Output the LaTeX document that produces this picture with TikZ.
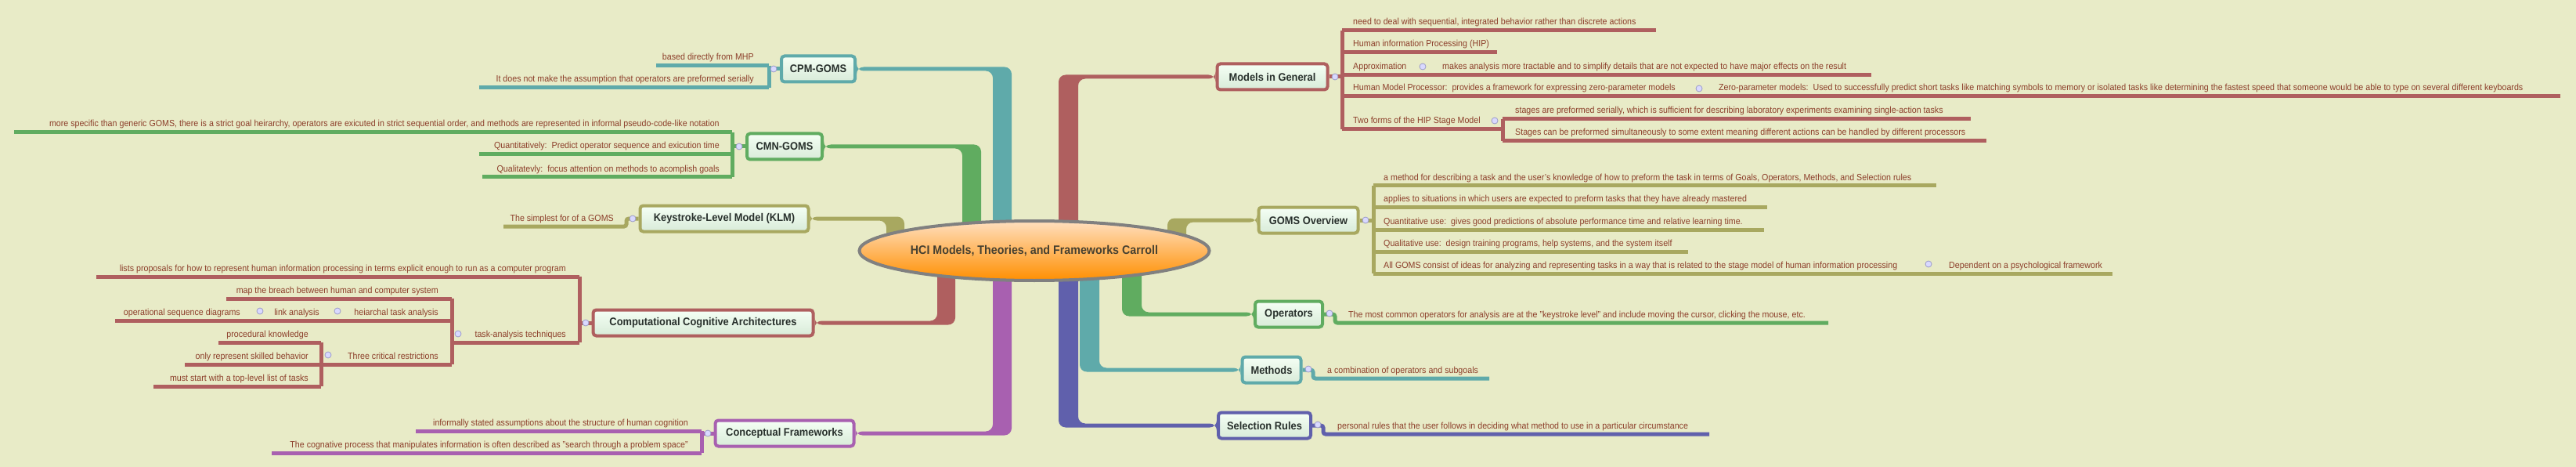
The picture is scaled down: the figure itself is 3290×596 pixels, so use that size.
\documentclass[tikz,border=0pt]{standalone}
\usepackage{fontspec}
\setmainfont{Liberation Sans}[FakeStretch=0.92]
\usetikzlibrary{shapes.geometric}
\definecolor{paper}{RGB}{232,235,199}
\definecolor{leaftext}{RGB}{140,62,42}
\definecolor{boxtext}{RGB}{40,48,44}
\definecolor{cred}{RGB}{175,95,95}
\definecolor{cteal}{RGB}{95,170,170}
\definecolor{cgreen}{RGB}{96,172,96}
\definecolor{colive}{RGB}{168,168,96}
\definecolor{cpurple}{RGB}{168,96,176}
\definecolor{cblue}{RGB}{96,96,172}
\tikzset{
	topic/.style={draw=#1, line width=4pt, rounded corners=4pt, top color=white!96!green, bottom color=green!8!white!92!black,
		font=\bfseries\fontsize{14}{16}\selectfont, text=boxtext, minimum height=33pt, inner sep=0pt},
	leafR/.style={anchor=base west, inner sep=0pt, font=\fontsize{11.6}{13}\selectfont, text=leaftext},
	leafL/.style={anchor=base east, inner sep=0pt, font=\fontsize{11.6}{13}\selectfont, text=leaftext},
	rib/.style={draw=#1, line width=5pt, rounded corners=3pt},
	fold/.style={circle, draw=blue!30!gray!60, fill=blue!15!white, minimum size=8pt, inner sep=0pt, line width=0.8pt}
}
\begin{document}
\begin{tikzpicture}[x=1pt, y=-1pt]
	\fill[paper] (0,0) rectangle (3290,596);
	\useasboundingbox (0,0) rectangle (3290,596);

	% main topics
	\node[topic=cteal, minimum width=94pt] (cpm) at (1045,88) {CPM-GOMS};
	\node[topic=cgreen, minimum width=96pt] (cmn) at (1002,187) {CMN-GOMS};
	\node[topic=colive, minimum width=215pt] (klm) at (925,279) {Keystroke-Level Model (KLM)};
	\node[topic=cred, minimum width=281pt] (cca) at (898,412) {Computational Cognitive Architectures};
	\node[topic=cpurple, minimum width=177pt] (cf) at (1002,553) {Conceptual Frameworks};
	\node[topic=cred, minimum width=141pt] (mig) at (1625,98) {Models in General};
	\node[topic=colive, minimum width=127pt] (gov) at (1671,281) {GOMS Overview};
	\node[topic=cgreen, minimum width=86pt] (ops) at (1646,401) {Operators};
	\node[topic=cteal, minimum width=75pt] (mth) at (1624,472) {Methods};
	\node[topic=cblue, minimum width=118pt] (sel) at (1615,543) {Selection Rules};

	% trunks
	\fill[cteal, rounded corners=9pt] ([yshift=2.5pt]cpm.east) -| (1292,320) -- (1268,320) |- ([yshift=-2.5pt]cpm.east) -- cycle;
	\fill[cgreen, rounded corners=9pt] ([yshift=2.5pt]cmn.east) -| (1253,320) -- (1229,320) |- ([yshift=-2.5pt]cmn.east) -- cycle;
	\fill[colive, rounded corners=9pt] ([yshift=2.5pt]klm.east) -| (1155,320) -- (1132,320) |- ([yshift=-2.5pt]klm.east) -- cycle;
	\fill[cred, rounded corners=9pt] ([yshift=-2.5pt]cca.east) -| (1220,320) -- (1197,320) |- ([yshift=2.5pt]cca.east) -- cycle;
	\fill[cpurple, rounded corners=9pt] ([yshift=-2.5pt]cf.east) -| (1292,320) -- (1268,320) |- ([yshift=2.5pt]cf.east) -- cycle;
	\fill[cred, rounded corners=9pt] ([yshift=2.5pt]mig.west) -| (1352,320) -- (1377,320) |- ([yshift=-2.5pt]mig.west) -- cycle;
	\fill[colive, rounded corners=9pt] ([yshift=2.5pt]gov.west) -| (1491,320) -- (1515,320) |- ([yshift=-2.5pt]gov.west) -- cycle;
	\fill[cgreen, rounded corners=9pt] ([yshift=-2.5pt]ops.west) -| (1433,320) -- (1458,320) |- ([yshift=2.5pt]ops.west) -- cycle;
	\fill[cteal, rounded corners=9pt] ([yshift=-2.5pt]mth.west) -| (1379,320) -- (1404,320) |- ([yshift=2.5pt]mth.west) -- cycle;
	\fill[cblue, rounded corners=9pt] ([yshift=-2.5pt]sel.west) -| (1352,320) -- (1377,320) |- ([yshift=2.5pt]sel.west) -- cycle;

	\node[ellipse, draw=gray, line width=4pt, top color=orange!25!white, bottom color=orange!90!red!80!yellow, inner sep=0pt,
		minimum width=442pt, minimum height=76pt, font=\bfseries\fontsize{15.5}{18}\selectfont, text=boxtext!80!brown]
		(hci) at (1321,320) {HCI Models, Theories, and Frameworks Carroll};

	% Models in General
	\draw[rib=cred] (mig.east) -- (1714,98);
	\draw[rib=cred] (1714,39) -- (1714,165);
	\draw[rib=cred] (1714,39) -- (2115,39);
	\draw[rib=cred] (1714,67) -- (1912,67);
	\draw[rib=cred] (1714,96) -- (2390,96);
	\draw[rib=cred] (1714,123) -- (3270,123);
	\draw[rib=cred] (1714,165) -- (1919,165);
	\draw[rib=cred] (1919,152) -- (1919,180);
	\draw[rib=cred] (1919,152) -- (2517,152);
	\draw[rib=cred] (1919,180) -- (2537,180);
	\node[leafR] (m1) at (1728,32) {need to deal with sequential, integrated behavior rather than discrete actions};
	\node[leafR] (m2) at (1728,60) {Human information Processing (HIP)};
	\node[leafR] (m3) at (1728,89) {Approximation};
	\node[leafR] (m3a) at (1842,89) {makes analysis more tractable and to simplify details that are not expected to have major effects on the result};
	\node[leafR] (m4) at (1728,116) {Human Model Processor:\ \ provides a framework for expressing zero-parameter models};
	\node[leafR] (m4a) at (2195,116) {Zero-parameter models:\ \ Used to successfully predict short tasks like matching symbols to memory or isolated tasks like determining the fastest speed that someone would be able to type on several different keyboards};
	\node[leafR] (m5) at (1728,158) {Two forms of the HIP Stage Model};
	\node[leafR] (m5a) at (1935,145) {stages are preformed serially, which is sufficient for describing laboratory experiments examining single-action tasks};
	\node[leafR] (m5b) at (1935,173) {Stages can be preformed simultaneously to some extent meaning different actions can be handled by different processors};
	\node[fold] at (1705,98) {};
	\node[fold] at (1817,85) {};
	\node[fold] at (2170,113) {};
	\node[fold] at (1909,154) {};

	% GOMS Overview
	\draw[rib=colive] (gov.east) -- (1754,281);
	\draw[rib=colive] (1754,237) -- (1754,349);
	\draw[rib=colive] (1754,237) -- (2473,237);
	\draw[rib=colive] (1754,264) -- (2257,264);
	\draw[rib=colive] (1754,293) -- (2253,293);
	\draw[rib=colive] (1754,321) -- (2156,321);
	\draw[rib=colive] (1754,349) -- (2698,349);
	\node[leafR] (g1) at (1767,230) {a method for describing a task and the user's knowledge of how to preform the task in terms of Goals, Operators, Methods, and Selection rules};
	\node[leafR] (g2) at (1767,257) {applies to situations in which users are expected to preform tasks that they have already mastered};
	\node[leafR] (g3) at (1767,286) {Quantitative use:\ \ gives good predictions of absolute performance time and relative learning time.};
	\node[leafR] (g4) at (1767,314) {Qualitative use:\ \ design training programs, help systems, and the system itself};
	\node[leafR] (g5) at (1767,342) {All GOMS consist of ideas for analyzing and representing tasks in a way that is related to the stage model of human information processing};
	\node[leafR] (g5a) at (2489,342) {Dependent on a psychological framework};
	\node[fold] at (1744,281) {};
	\node[fold] at (2463,337) {};

	% Operators, Methods, Selection Rules
	\draw[rib=cgreen] (ops.east) -| (1705,412) -- (2335,412);
	\draw[rib=cteal] (mth.east) -| (1677,483) -- (1902,483);
	\draw[rib=cblue] (sel.east) -| (1690,554) -- (2183,554);
	\node[leafR] (o1) at (1722,405) {The most common operators for analysis are at the "keystroke level" and include moving the cursor, clicking the mouse, etc.};
	\node[leafR] (t1) at (1695,476) {a combination of operators and subgoals};
	\node[leafR] (s1) at (1708,547) {personal rules that the user follows in deciding what method to use in a particular circumstance};
	\node[fold] at (1698,400) {};
	\node[fold] at (1671,471) {};
	\node[fold] at (1683,542) {};

	% CPM-GOMS
	\draw[rib=cteal] (cpm.west) -- (982,88);
	\draw[rib=cteal] (982,84) -- (982,112);
	\draw[rib=cteal] (838,84) -- (982,84);
	\draw[rib=cteal] (612,112) -- (982,112);
	\node[leafL] (p1) at (963,77) {based directly from MHP};
	\node[leafL] (p2) at (963,105) {It does not make the assumption that operators are preformed serially};
	\node[fold] at (988,88) {};

	% CMN-GOMS
	\draw[rib=cgreen] (cmn.west) -- (935,187);
	\draw[rib=cgreen] (935,169) -- (935,226);
	\draw[rib=cgreen] (18,169) -- (935,169);
	\draw[rib=cgreen] (612,197) -- (935,197);
	\draw[rib=cgreen] (616,226) -- (935,226);
	\node[leafL] (n1) at (919,162) {more specific than generic GOMS, there is a strict goal heirarchy, operators are exicuted in strict sequential order, and methods are represented in informal pseudo-code-like notation};
	\node[leafL] (n2) at (919,190) {Quantitatively:\ \ Predict operator sequence and exicution time};
	\node[leafL] (n3) at (919,219) {Qualitatevly:\ \ focus attention on methods to acomplish goals};
	\node[fold] at (944,187) {};

	% KLM
	\draw[rib=colive] (klm.west) -| (800,289) -- (643,289);
	\node[leafL] (k1) at (784,282) {The simplest for of a GOMS};
	\node[fold] at (808,279) {};

	% Computational Cognitive Architectures
	\draw[rib=cred] (cca.west) -- (740,412);
	\draw[rib=cred] (740,353) -- (740,437);
	\draw[rib=cred] (123,353) -- (740,353);
	\draw[rib=cred] (580,437) -- (740,437);
	\draw[rib=cred] (577,381) -- (577,465);
	\draw[rib=cred] (289,381) -- (577,381);
	\draw[rib=cred] (147,409) -- (577,409);
	\draw[rib=cred] (236,465) -- (577,465);
	\draw[rib=cred] (410,437) -- (410,493);
	\draw[rib=cred] (279,437) -- (410,437);
	\draw[rib=cred] (196,493) -- (410,493);
	\node[leafL] (c1) at (723,346) {lists proposals for how to represent human information processing in terms explicit enough to run as a computer program};
	\node[leafL] (c2) at (723,430) {task-analysis techniques};
	\node[leafL] (c3) at (560,374) {map the breach between human and computer system};
	\node[leafL] (c4) at (560,402) {heiarchal task analysis};
	\node[leafL] (c5) at (408,402) {link analysis};
	\node[leafL] (c6) at (307,402) {operational sequence diagrams};
	\node[leafL] (c7) at (560,458) {Three critical restrictions};
	\node[leafL] (c8) at (394,430) {procedural knowledge};
	\node[leafL] (c9) at (394,458) {only represent skilled behavior};
	\node[leafL] (c10) at (394,486) {must start with a top-level list of tasks};
	\node[fold] at (748,412) {};
	\node[fold] at (585,426) {};
	\node[fold] at (431,397) {};
	\node[fold] at (332,397) {};
	\node[fold] at (419,453) {};

	% Conceptual Frameworks
	\draw[rib=cpurple] (cf.west) -- (896,553);
	\draw[rib=cpurple] (896,550) -- (896,578);
	\draw[rib=cpurple] (531,550) -- (896,550);
	\draw[rib=cpurple] (347,578) -- (896,578);
	\node[leafL] (f1) at (879,543) {informally stated assumptions about the structure of human cognition};
	\node[leafL] (f2) at (879,571) {The cognative process that manipulates information is often described as "search through a problem space"};
	\node[fold] at (904,553) {};
\end{tikzpicture}
\end{document}
